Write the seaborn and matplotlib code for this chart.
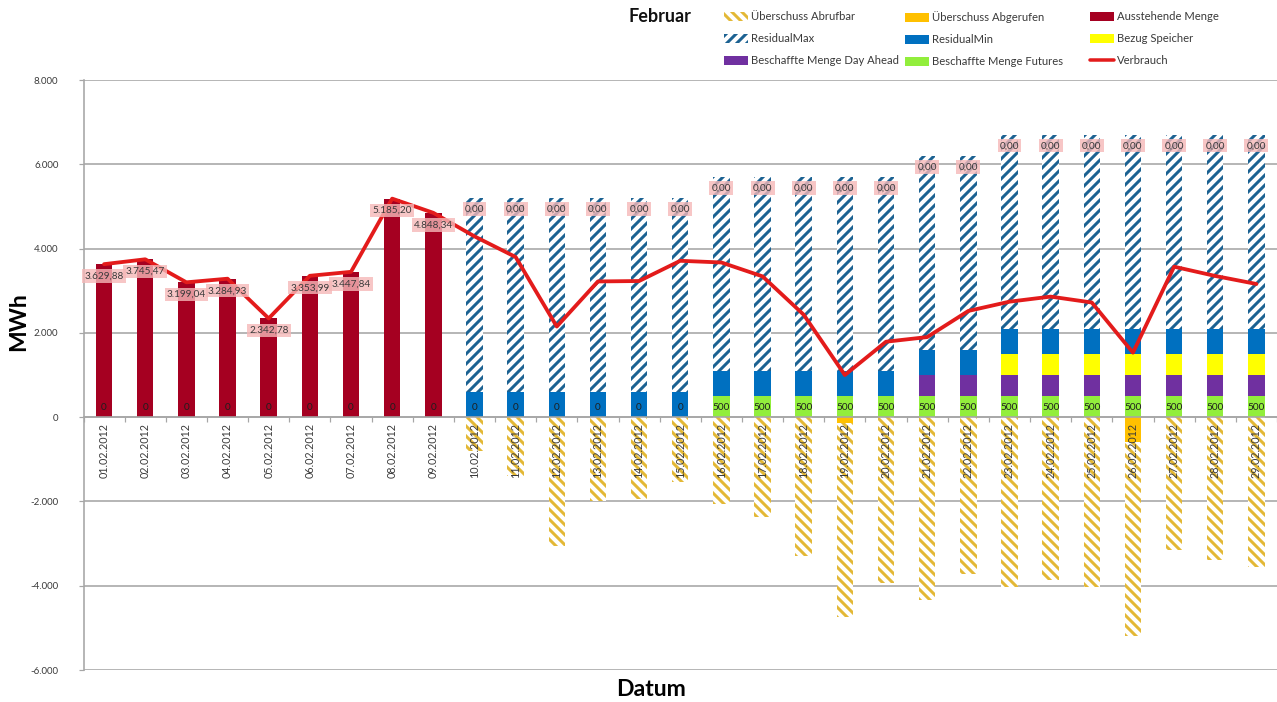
import numpy as np
import pandas as pd
import matplotlib
matplotlib.use("Agg")
import matplotlib.pyplot as plt
import seaborn as sns
from matplotlib.patches import Patch
from matplotlib.lines import Line2D
from matplotlib.ticker import FuncFormatter

DPI = 120
W_PX, H_PX = 1277, 702


def px(v):
    """Convert a pixel size to points at the figure dpi."""
    return v * 72 / DPI


# ---- data -------------------------------------------------------------
datum = [f"{d:02d}.02.2012" for d in range(1, 30)]

ausstehende_menge = [3629.88, 3745.47, 3199.04, 3284.93, 2342.78, 3353.99,
                     3447.84, 5185.20, 4848.34] + [0] * 20
verbrauch = [3629.88, 3745.47, 3199.04, 3284.93, 2342.78, 3353.99, 3447.84,
             5185.20, 4848.34,
             4290, 3800, 2150, 3220, 3230, 3710, 3670, 3340, 2430, 1000,
             1790, 1900, 2520, 2740, 2860, 2720, 1530, 3570, 3350, 3160]
futures = [0] * 15 + [500] * 14
day_ahead = [0] * 20 + [500] * 9
bezug_speicher = [0] * 22 + [500] * 7
residual_min = [0] * 9 + [600] * 20
residual_max = [0] * 9 + [4600] * 20
ueberschuss_abgerufen = [0] * 18 + [-150] + [0] * 6 + [-600] + [0] * 3
ueberschuss_abrufbar = [0] * 9 + [-800, -1400, -3050, -2000, -1950, -1550,
                                  -2050, -2380, -3300, -4590, -3930, -4350,
                                  -3730, -4030, -3870, -4030, -4600, -3160,
                                  -3400, -3560]
differenz = [None] * 9 + [0.0] * 20

y_ticks = [-6000, -4000, -2000, 0, 2000, 4000, 6000, 8000]

# ---- colours ------------------------------------------------------------
C_AUSSTEHEND = "#A50021"
C_VERBRAUCH = "#E31B1B"
C_RES_MAX = "#1C6292"
C_RES_MIN = "#0070C0"
C_SPEICHER = "#FFFF00"
C_DAY_AHEAD = "#7030A0"
C_FUTURES = "#92EE3C"
C_ABGERUFEN = "#FFC000"
C_ABRUFBAR = "#E3B836"
C_GRID = "#A6A6A6"
C_TEXT = "#3A3A3A"
C_LABEL_BG = (0.96, 0.72, 0.72, 0.8)

HATCH_MAX = "////"
HATCH_ABRUF = "\\\\\\\\"


def de_num(v, decimals=2):
    s = f"{v:,.{decimals}f}"
    return s.replace(",", "X").replace(".", ",").replace("X", ".")


sns.set_theme(style="white")
plt.rcParams["font.family"] = ["Lato", "DejaVu Sans"]
plt.rcParams["hatch.linewidth"] = 1.8

fig = plt.figure(figsize=(W_PX / DPI, H_PX / DPI), dpi=DPI)
ax = fig.add_axes([83.5 / W_PX, 32 / H_PX, 1193.5 / W_PX, 590 / H_PX])

x = np.arange(len(datum))
df = pd.DataFrame({"Datum": datum, "Ausstehende Menge": ausstehende_menge})

# outstanding amount (dark red bars)
sns.barplot(data=df, x="Datum", y="Ausstehende Menge", order=datum,
            color=C_AUSSTEHEND, saturation=1, width=0.4, linewidth=0,
            ax=ax, zorder=2)

bar_w = 0.4
fut = np.array(futures, float)
da = np.array(day_ahead, float)
sp = np.array(bezug_speicher, float)
rmin = np.array(residual_min, float)
rmax = np.array(residual_max, float)

# positive stack
ax.bar(x, fut, bar_w, color=C_FUTURES, linewidth=0, zorder=2)
ax.bar(x, da, bar_w, bottom=fut, color=C_DAY_AHEAD, linewidth=0, zorder=2)
ax.bar(x, sp, bar_w, bottom=fut + da, color=C_SPEICHER, linewidth=0, zorder=2)
ax.bar(x, rmin, bar_w, bottom=fut + da + sp, color=C_RES_MIN, linewidth=0,
       zorder=2)
ax.bar(x, rmax, bar_w, bottom=fut + da + sp + rmin, facecolor="white",
       edgecolor=C_RES_MAX, hatch=HATCH_MAX, linewidth=0, zorder=2)
stack_top = fut + da + sp + rmin + rmax

# negative stack
abg = np.array(ueberschuss_abgerufen, float)
abr = np.array(ueberschuss_abrufbar, float)
ax.bar(x, abg, bar_w, color=C_ABGERUFEN, linewidth=0, zorder=2)
ax.bar(x, abr, bar_w, bottom=abg, facecolor="white", edgecolor=C_ABRUFBAR,
       hatch=HATCH_ABRUF, linewidth=0, zorder=2)

# consumption line
sns.lineplot(x=x, y=verbrauch, ax=ax, color=C_VERBRAUCH, linewidth=px(3.8),
             zorder=3, legend=False)

# ---- value labels ---------------------------------------------------------
fs_small = px(10)
label_box = dict(boxstyle="square,pad=0.22", fc=C_LABEL_BG, ec="none")
for i, v in enumerate(ausstehende_menge):
    if v > 0:
        ax.annotate(de_num(v), xy=(i, v), xytext=(0, px(-12)),
                    textcoords="offset points", ha="center", va="center",
                    fontsize=fs_small, color=C_TEXT, bbox=label_box, zorder=5)
for i, v in enumerate(differenz):
    if v is not None:
        ax.annotate(de_num(v), xy=(i, stack_top[i]), xytext=(0, px(-11)),
                    textcoords="offset points", ha="center", va="center",
                    fontsize=fs_small, color=C_TEXT, bbox=label_box, zorder=5)
for i, v in enumerate(futures):
    ax.annotate(de_num(v, 0), xy=(i, 0), xytext=(0, px(10)),
                textcoords="offset points", ha="center", va="center",
                fontsize=fs_small, color="#1E1E1E", zorder=5)

# date labels hanging below the zero line
for i, d in enumerate(datum):
    ax.annotate(d, xy=(i, 0), xytext=(0, px(-6)), textcoords="offset points",
                ha="center", va="top", rotation=90, fontsize=px(10.8),
                color=C_TEXT, zorder=6)

# ---- axes styling ----------------------------------------------------------
ax.set_xlim(-0.5, len(datum) - 0.5)
ax.set_ylim(-6000, 8000)
ax.set_yticks(y_ticks)
ax.yaxis.set_major_formatter(FuncFormatter(lambda v, _: de_num(v, 0)))
ax.set_xticks(np.arange(-0.5, len(datum), 1.0))
ax.set_xticklabels([])
ax.set_xlabel("")
ax.set_ylabel("")

ax.grid(axis="y", color=C_GRID, linewidth=px(1.6))
ax.grid(axis="x", visible=False)
ax.set_axisbelow(True)
for side in ("top", "right"):
    ax.spines[side].set_visible(False)
ax.spines["bottom"].set_position(("data", 0))
ax.spines["bottom"].set_color(C_GRID)
ax.spines["bottom"].set_linewidth(px(1.6))
ax.spines["left"].set_color(C_GRID)
ax.spines["left"].set_linewidth(px(1.6))
ax.tick_params(axis="x", length=px(5), width=px(1.2), color=C_GRID,
               direction="out", bottom=True)
ax.tick_params(axis="y", length=px(5), width=px(1.2), color=C_GRID,
               direction="out", left=True, labelsize=px(9.8),
               labelcolor=C_TEXT, pad=px(20))

# ---- titles --------------------------------------------------------------------
fig.text(628 / W_PX, 1 - 17 / H_PX, "Februar", fontsize=px(18),
         fontweight="bold", ha="left", va="center", color="#111111")
fig.text(19 / W_PX, 1 - 322 / H_PX, "MWh", fontsize=px(23),
         fontweight="bold", ha="center", va="center", rotation=90,
         color="#000000")
fig.text(651 / W_PX, 1 - 689 / H_PX, "Datum", fontsize=px(23),
         fontweight="bold", ha="center", va="center", color="#000000")

# ---- legend ----------------------------------------------------------------------
legend_cols = [
    (724, [Patch(facecolor="white", edgecolor=C_ABRUFBAR, hatch=HATCH_ABRUF,
                 linewidth=0, label="Überschuss Abrufbar"),
           Patch(facecolor="white", edgecolor=C_RES_MAX, hatch=HATCH_MAX,
                 linewidth=0, label="ResidualMax"),
           Patch(facecolor=C_DAY_AHEAD, linewidth=0,
                 label="Beschaffte Menge Day Ahead")]),
    (905, [Patch(facecolor=C_ABGERUFEN, linewidth=0,
                 label="Überschuss Abgerufen"),
           Patch(facecolor=C_RES_MIN, linewidth=0, label="ResidualMin"),
           Patch(facecolor=C_FUTURES, linewidth=0,
                 label="Beschaffte Menge Futures")]),
    (1090, [Patch(facecolor=C_AUSSTEHEND, linewidth=0,
                  label="Ausstehende Menge"),
            Patch(facecolor=C_SPEICHER, linewidth=0, label="Bezug Speicher"),
            Line2D([], [], color=C_VERBRAUCH, linewidth=px(3.5),
                   label="Verbrauch")]),
]
for x0, handles in legend_cols:
    fig.legend(handles=handles, loc="upper left",
               bbox_to_anchor=(x0 / W_PX, 1 - 11.5 / H_PX), frameon=False,
               fontsize=px(11.2), handlelength=2.15, handleheight=0.9,
               handletextpad=0.25, labelspacing=0.98, borderpad=0,
               borderaxespad=0, labelcolor=C_TEXT)

fig.savefig("out.png", dpi=DPI, facecolor="white")
